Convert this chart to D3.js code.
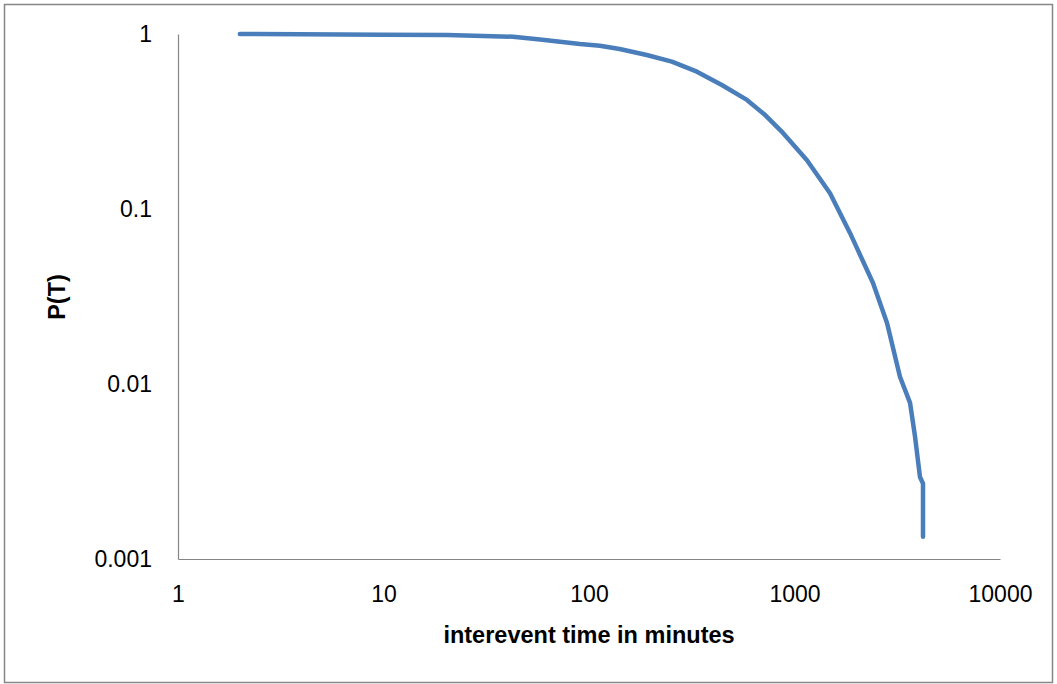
<!DOCTYPE html>
<html>
<head>
<meta charset="utf-8">
<script src="https://cdn.jsdelivr.net/npm/d3@7"></script>
<style>
  body { margin: 0; background: #fff; }
  text { font-family: "Liberation Sans", Arial, sans-serif; fill: #000; }
</style>
</head>
<body>
<div id="chart"></div>
<script>
// interevent time (minutes) and P(T)
let timeValues = [2, 3.9, 10, 20.4, 42.7, 57.8, 90.4, 113, 141, 191, 253, 335, 443, 587, 720, 879, 1150, 1489, 1862, 2037, 2410, 2820, 3260, 3650, 3860, 4080, 4220, 4220];
let probValues = [1, 0.998, 0.99, 0.987, 0.965, 0.93, 0.877, 0.857, 0.821, 0.759, 0.695, 0.609, 0.511, 0.42, 0.344, 0.272, 0.19, 0.123, 0.073, 0.058, 0.0378, 0.0223, 0.011, 0.0078, 0.005, 0.00294, 0.0027, 0.00134];
let xTicks = [1, 10, 100, 1000, 10000];
let yTicks = [0.001, 0.01, 0.1, 1];

let width = 1057;
let height = 684;
let plotLeft = 178, plotRight = 1000, plotTop = 34, plotBottom = 559;

//build canvas
var svg = d3.select("#chart")
  .append("svg")
  .attr("width", width)
  .attr("height", height);

// outer chart border
svg.append("rect")
  .attr("x", 4.5)
  .attr("y", 4.5)
  .attr("width", 1048)
  .attr("height", 678)
  .attr("fill", "none")
  .attr("stroke", "#868686")
  .attr("stroke-width", 1.5);

let x = d3.scaleLog().domain([1, 10000]).range([plotLeft, plotRight]);
let y = d3.scaleLog().domain([0.001, 1]).range([plotBottom, plotTop]);

// x axis
let xAxis = svg.append("g")
  .attr("transform", "translate(0," + plotBottom + ")")
  .call(d3.axisBottom(x).tickValues(xTicks).tickSize(0).tickPadding(0).tickFormat(d3.format("d")));
xAxis.select(".domain").attr("stroke", "#868686").attr("stroke-width", 1.2);
xAxis.selectAll("text")
  .attr("y", 43)
  .attr("dy", 0)
  .style("font-size", "23px")
  .style("font-family", "Liberation Sans, Arial, sans-serif");

// y axis
let yAxis = svg.append("g")
  .attr("transform", "translate(" + plotLeft + ",0)")
  .call(d3.axisLeft(y).tickValues(yTicks).tickSize(0).tickPadding(26).tickFormat(d => String(d)));
yAxis.select(".domain").attr("stroke", "#868686").attr("stroke-width", 1.2);
yAxis.selectAll("text")
  .style("font-size", "23px")
  .style("font-family", "Liberation Sans, Arial, sans-serif");

// axis titles
svg.append("text")
  .attr("x", 589)
  .attr("y", 643)
  .attr("text-anchor", "middle")
  .style("font-size", "23.5px")
  .style("font-weight", "bold")
  .text("interevent time in minutes");

svg.append("text")
  .attr("transform", "translate(65,297) rotate(-90)")
  .attr("text-anchor", "middle")
  .style("font-size", "23.5px")
  .style("font-weight", "bold")
  .text("P(T)");

// the curve
let points = timeValues.map((t, i) => [t, probValues[i]]);
let line = d3.line()
  .x(d => x(d[0]))
  .y(d => y(d[1]));

svg.append("path")
  .datum(points)
  .attr("d", line)
  .attr("fill", "none")
  .attr("stroke", "#4a7ebb")
  .attr("stroke-width", 4.5)
  .attr("stroke-linecap", "round")
  .attr("stroke-linejoin", "round");
</script>
</body>
</html>
